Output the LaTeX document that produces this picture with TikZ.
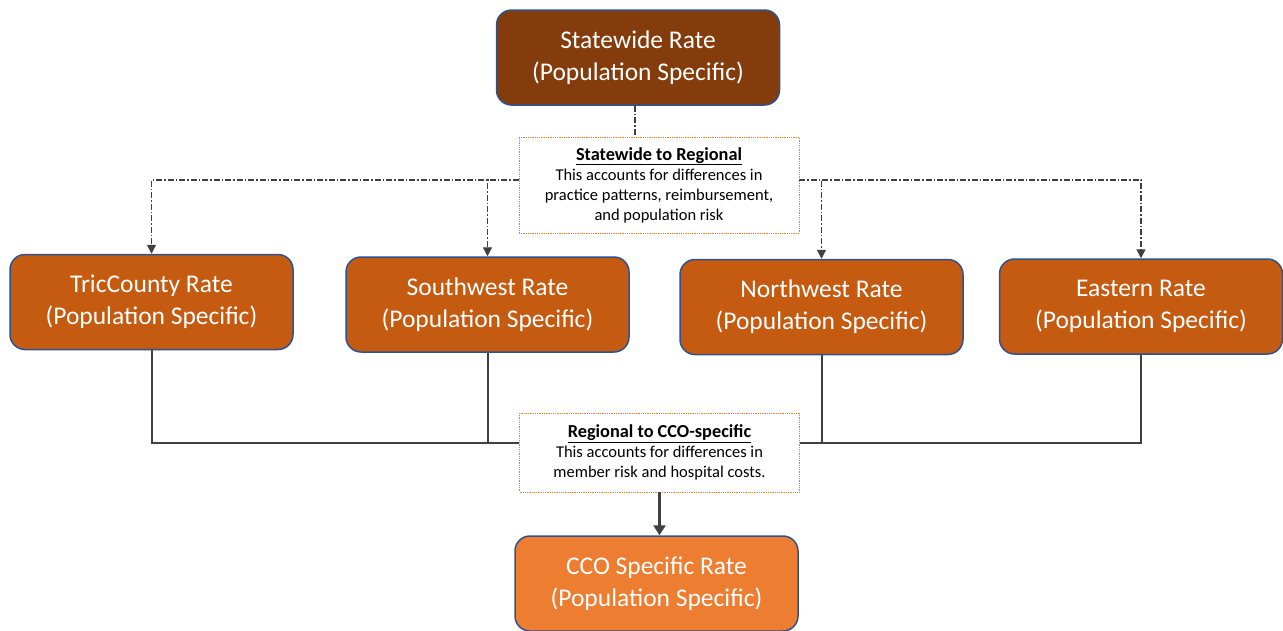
\documentclass[tikz,border=0pt]{standalone}
\usepackage{fontspec}
\setmainfont{Carlito}
\usetikzlibrary{arrows.meta}
\definecolor{stateBrown}{HTML}{843C0C}
\definecolor{regionOrange}{HTML}{C55A11}
\definecolor{ccoOrange}{HTML}{ED7D31}
\definecolor{boxBorder}{HTML}{2F528F}
\definecolor{lineGray}{HTML}{404040}
\begin{document}
\begin{tikzpicture}[x=1pt, y=-1pt,
        rate/.style={rectangle, rounded corners=15pt, draw=boxBorder, line width=1.5pt, text=white, minimum width=283pt, minimum height=95pt, align=center, font=\fontsize{25.5}{32}\selectfont},
        note/.style={rectangle, draw=ccoOrange, densely dotted, line width=0.8pt, fill=white, align=center, minimum width=280pt, font=\fontsize{16.5}{20}\selectfont},
        split/.style={lineGray, line width=1.3pt, dash pattern=on 6pt off 2pt on 1.5pt off 2pt, -{Triangle[width=9pt, length=9pt]}},
        merge/.style={lineGray, line width=2pt}]
        \useasboundingbox (0,0) rectangle (1283,630);
        \node (state) [rate, fill=stateBrown] at (638,57.5) {Statewide Rate\\(Population Specific)};
        \node (tri) [rate, fill=regionOrange] at (151.5,302) {TricCounty Rate\\(Population Specific)};
        \node (sw) [rate, fill=regionOrange] at (487.5,304.5) {Southwest Rate\\(Population Specific)};
        \node (nw) [rate, fill=regionOrange] at (821.5,307) {Northwest Rate\\(Population Specific)};
        \node (east) [rate, fill=regionOrange] at (1141,306.5) {Eastern Rate\\(Population Specific)};
        \node (cco) [rate, fill=ccoOrange] at (656.5,583.5) {CCO Specific Rate\\(Population Specific)};

        \node (s2r) [note, minimum height=96pt] at (659,185) {{\fontsize{18.3}{20}\selectfont\bfseries\underline{Statewide to Regional}}\\This accounts for differences in\\practice patterns, reimbursement,\\and population risk};
        \node (r2c) [note, minimum height=79pt] at (659.5,452.5) {{\fontsize{18.3}{20}\selectfont\bfseries\underline{Regional to CCO-specific}}\\This accounts for differences in\\member risk and hospital costs.};

        \draw[split, -] ([xshift=-3pt]state.south) -- ([xshift=-3pt]state.south |- s2r.north);
        \draw[split] ([yshift=5pt]s2r.west) -| (tri.north);
        \draw[split] ([yshift=5pt]s2r.west) -| (sw.north);
        \draw[split] ([yshift=5pt]s2r.east) -| (nw.north);
        \draw[split] ([yshift=5pt]s2r.east) -| (east.north);

        \draw[merge] (tri.south) |- ([yshift=10pt]r2c.west);
        \draw[merge] (sw.south) |- ([yshift=10pt]r2c.west);
        \draw[merge] (nw.south) |- ([yshift=10pt]r2c.east);
        \draw[merge] (east.south) |- ([yshift=10pt]r2c.east);
        \draw[merge, line width=3pt, -{Triangle[width=12pt, length=10pt]}] (r2c.south) -- (r2c.south |- cco.north);
\end{tikzpicture}
\end{document}
